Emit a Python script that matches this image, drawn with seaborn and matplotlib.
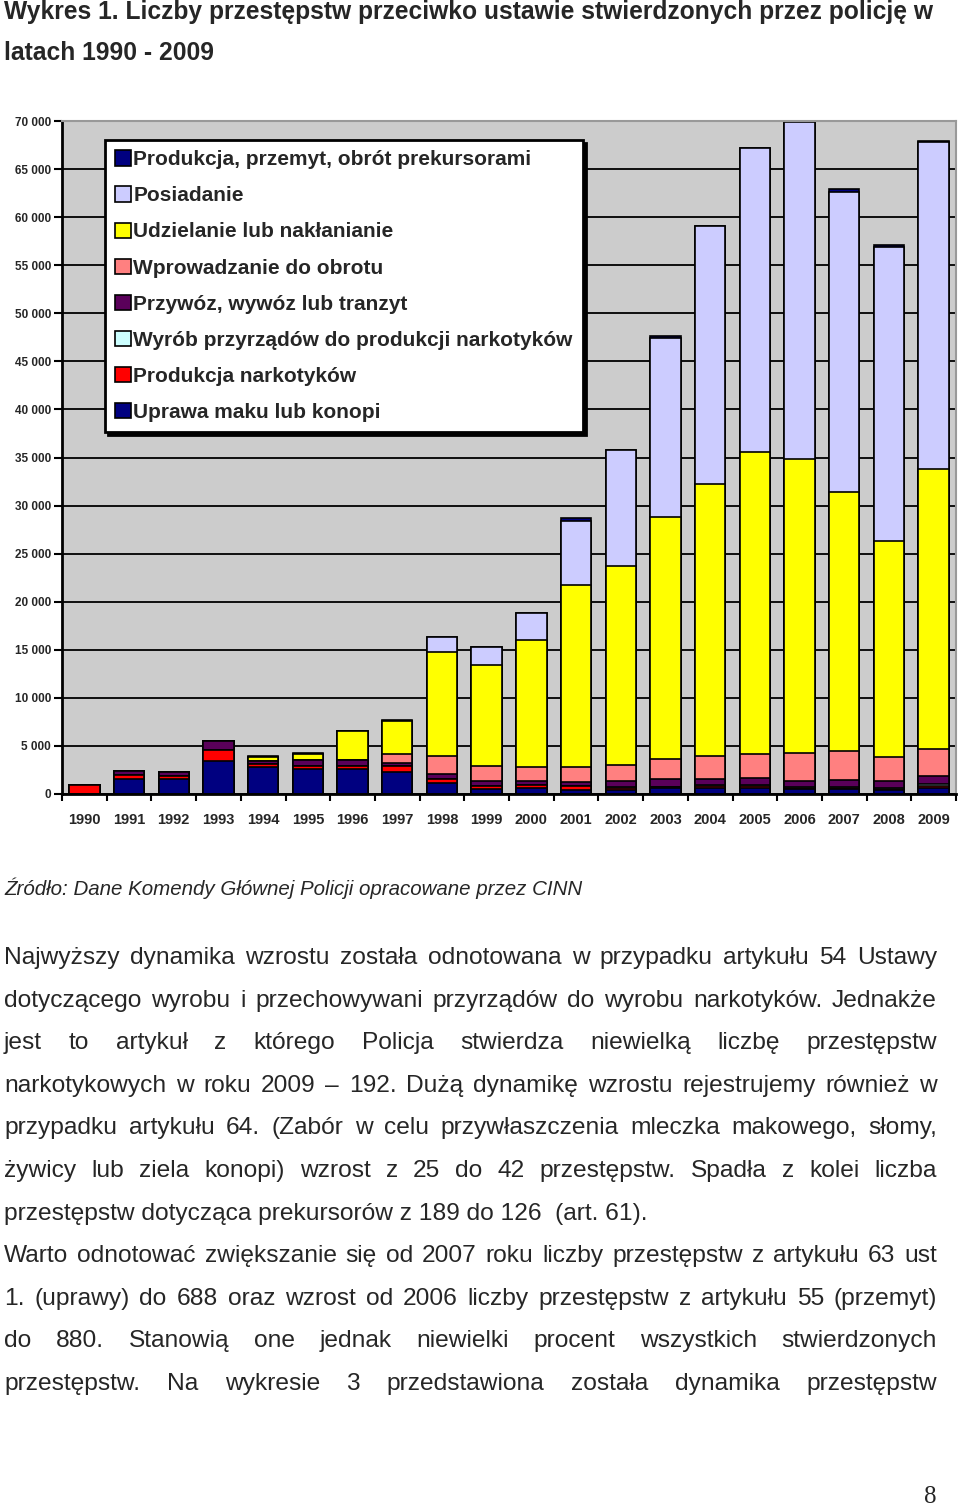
import numpy as np
import pandas as pd
import matplotlib
matplotlib.use("Agg")
import matplotlib.pyplot as plt
from matplotlib.patches import Patch
import seaborn as sns

years = [str(y) for y in range(1990, 2010)]

# series from the bottom of the stack to the top
uprawa = [50, 1600, 1550, 3400, 2800, 2550, 2550, 2250, 1100, 520,
          600, 450, 420, 600, 600, 600, 520, 520, 400, 650]
produkcja = [850, 350, 350, 1150, 300, 350, 350, 650, 420, 350,
             350, 350, 250, 100, 250, 250, 150, 150, 100, 150]
wyrob = [0, 0, 0, 0, 0, 0, 0, 0, 0, 0,
         30, 40, 40, 60, 60, 70, 80, 100, 120, 192]
przywoz = [0, 400, 400, 950, 350, 630, 630, 340, 550, 520,
           400, 400, 620, 800, 700, 700, 650, 650, 700, 880]
wprowadzanie = [0, 0, 0, 0, 0, 0, 0, 870, 1900, 1560,
                1390, 1560, 1730, 2050, 2320, 2500, 2850, 3020, 2500, 2770]
udzielanie = [0, 0, 0, 0, 450, 600, 3000, 3460, 10800, 10470,
              13200, 18960, 20620, 25170, 28360, 31440, 30610, 27010, 22470, 29150]
posiadanie = [0, 0, 0, 0, 0, 0, 0, 0, 1560, 1870,
              2900, 6660, 12060, 18620, 26800, 31600, 35000, 31200, 30580, 34010]
prekursory = [0, 0, 0, 0, 100, 100, 0, 120, 0, 0,
              0, 300, 0, 200, 0, 0, 0, 250, 189, 126]

series_names = ["Uprawa maku lub konopi", "Produkcja narkotyków",
                "Wyrób przyrządów do produkcji narkotyków", "Przywóz, wywóz lub tranzyt",
                "Wprowadzanie do obrotu", "Udzielanie lub nakłanianie", "Posiadanie",
                "Produkcja, przemyt, obrót prekursorami"]
series_values = [uprawa, produkcja, wyrob, przywoz, wprowadzanie, udzielanie, posiadanie, prekursory]
series_colors = ["#000080", "#ff0000", "#ccffff", "#5a005a",
                 "#ff8080", "#ffff00", "#ccccff", "#000080"]

title_lines = ["Wykres 1. Liczby przestępstw przeciwko ustawie stwierdzonych przez policję w",
               "latach 1990 - 2009"]
source_text = "Źródło: Dane Komendy Głównej Policji opracowane przez CINN"
paragraph = [
    ("Najwyższy dynamika  wzrostu została odnotowana w przypadku artykułu 54 Ustawy", True),
    ("dotyczącego wyrobu i przechowywani przyrządów do wyrobu narkotyków. Jednakże", True),
    ("jest to artykuł z którego Policja stwierdza niewielką liczbę przestępstw", True),
    ("narkotykowych w roku 2009 – 192. Dużą dynamikę wzrostu rejestrujemy również w", True),
    ("przypadku artykułu 64. (Zabór w celu przywłaszczenia mleczka makowego, słomy,", True),
    ("żywicy lub ziela konopi) wzrost z 25 do 42 przestępstw. Spadła z kolei liczba", True),
    ("przestępstw dotycząca prekursorów z 189 do 126  (art. 61).", False),
    ("Warto odnotować zwiększanie się  od 2007 roku liczby przestępstw z artykułu 63 ust", True),
    ("1. (uprawy) do  688 oraz wzrost od 2006 liczby przestępstw z artykułu 55 (przemyt)", True),
    ("do 880. Stanowią one jednak niewielki procent wszystkich stwierdzonych", True),
    ("przestępstw. Na wykresie 3 przedstawiona została dynamika przestępstw", True),
]

sns.set_style("white")
plt.rcParams["font.family"] = ["Liberation Sans", "DejaVu Sans"]

W, H = 960, 1505
fig = plt.figure(figsize=(W / 100, H / 100), dpi=100)
ax = fig.add_axes([62 / W, 1 - 794 / H, 894 / W, 673 / H])
ax.set_facecolor("#cccccc")

# stacked bars: draw cumulative totals from the top series down
df = pd.DataFrame({n: v for n, v in zip(series_names, series_values)}, index=years)
cum = df.cumsum(axis=1)
for name, col in reversed(list(zip(series_names, series_colors))):
    sns.barplot(x=years, y=cum[name].values, color=col, saturation=1, width=0.68,
                edgecolor="black", linewidth=1.2, ax=ax)

ax.set_ylim(0, 70000)
ax.set_xlim(-0.5, 19.5)
ax.set_axisbelow(True)
ax.yaxis.grid(True, color="black", linewidth=1.3)
ax.xaxis.grid(False)
yt = np.arange(0, 70001, 5000)
ax.set_yticks(yt)
ax.set_yticklabels([f"{v:,}".replace(",", " ") for v in yt], fontsize=8.5, fontweight="bold")
ax.set_xticks(range(20))
ax.set_xticklabels(years, fontsize=10.5, fontweight="bold")
ax.set_xticks(np.arange(-0.5, 20, 1), minor=True)
ax.tick_params(axis="y", which="major", direction="out", length=6, width=1.5,
               color="black", pad=2, left=True)
ax.tick_params(axis="x", which="major", length=0, pad=14)
ax.tick_params(axis="x", which="minor", direction="out", length=5, width=1.5,
               color="black", bottom=True)
ax.set_xlabel("")
ax.set_ylabel("")
for s in ["left", "bottom"]:
    ax.spines[s].set_color("black")
    ax.spines[s].set_linewidth(2)
for s in ["top", "right"]:
    ax.spines[s].set_color("#999999")
    ax.spines[s].set_linewidth(1.5)

handles = [Patch(facecolor=c, edgecolor="black", linewidth=1.2)
           for c in reversed(series_colors)]
leg = ax.legend(handles, list(reversed(series_names)), loc="upper left",
                bbox_to_anchor=(0.048, 0.972), frameon=True, fancybox=False,
                shadow={"color": "black", "alpha": 1},
                prop={"weight": "bold", "size": 15},
                handlelength=0.75, handleheight=0.75, handletextpad=0.12,
                labelspacing=0.82, borderpad=0.5, borderaxespad=0)
leg.get_frame().set_edgecolor("black")
leg.get_frame().set_linewidth(2)
leg.get_frame().set_facecolor("white")

renderer = fig.canvas.get_renderer()


def fit_size(s, width, size=14, **kw):
    t = fig.text(0, 0, s, fontsize=size, **kw)
    w = t.get_window_extent(renderer).width
    t.remove()
    return size * width / w


def put(x, y, s, **kw):
    return fig.text(x / W, 1 - y / H, s, va="baseline", ha="left", **kw)


# title
tsize = fit_size(title_lines[0], 931, fontweight="bold")
put(4, 19, title_lines[0], fontsize=tsize, fontweight="bold")
put(4, 60, title_lines[1], fontsize=tsize, fontweight="bold")

# source note
ssize = fit_size(source_text, 581, style="italic")
put(4, 895, source_text, fontsize=ssize, style="italic")

# justified body text
psize = fit_size(paragraph[6][0], 648)
x0, x1 = 4, 937
for i, (line, just) in enumerate(paragraph):
    y = 964 + i * 42.6
    if not just:
        put(x0, y, line, fontsize=psize)
        continue
    words = line.split()
    texts = [put(0, y, w, fontsize=psize) for w in words]
    widths = [t.get_window_extent(renderer).width for t in texts]
    gap = (x1 - x0 - sum(widths)) / (len(words) - 1)
    x = x0
    for t, w in zip(texts, widths):
        t.set_x(x / W)
        x += w + gap

fig.text(930 / W, 1 - 1503 / H, "8", fontsize=18, family="Liberation Serif",
         ha="center", va="baseline")

fig.savefig("out.png", dpi=100)
